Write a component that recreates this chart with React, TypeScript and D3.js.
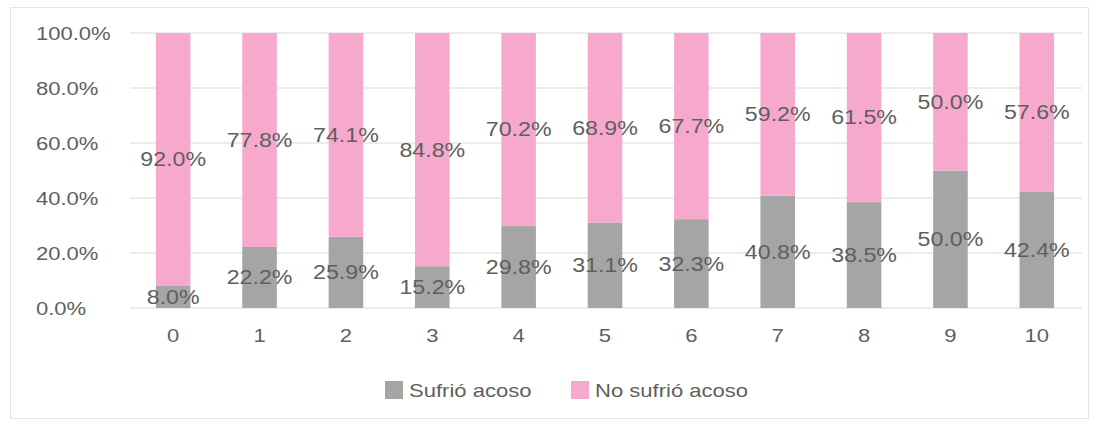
import React from "react";
import * as d3 from "d3";

const categories = ["0", "1", "2", "3", "4", "5", "6", "7", "8", "9", "10"];
const sufrio = [8.0, 22.2, 25.9, 15.2, 29.8, 31.1, 32.3, 40.8, 38.5, 50.0, 42.4];
const noSufrio = [92.0, 77.8, 74.1, 84.8, 70.2, 68.9, 67.7, 59.2, 61.5, 50.0, 57.6];
const yTicks = [0, 20, 40, 60, 80, 100];
const seriesNames = ["Sufrió acoso", "No sufrió acoso"];
const colors = ["#a5a5a5", "#f7a9cd"];

const W = 1098;
const H = 424;
const SX = 1.16;
const FONT = "'Liberation Sans', Arial, sans-serif";
const TXT = "#5f5f5f";

function STxt({ x, y, anchor = "middle", size = 19, children, fill = TXT }: any) {
  return (
    <text
      transform={`translate(${x},${y}) scale(${SX},1)`}
      textAnchor={anchor}
      dominantBaseline="central"
      fontFamily={FONT}
      fontSize={size}
      fill={fill}
    >
      {children}
    </text>
  );
}

export default function App() {
  const x = d3.scaleBand().domain(categories).range([130, 1080]).paddingInner(0.6).paddingOuter(0.3);
  const y = d3.scaleLinear().domain([0, 100]).range([308, 33]);
  const stack = categories.map((c, i) => ({ c, a: sufrio[i], b: noSufrio[i] }));
  return (
    <svg width={W} height={H} style={{ position: "absolute", left: 0, top: 0 }}>
      <rect x={10.5} y={7.5} width={1078} height={411} fill="#fff" stroke="#e6e6e6" />
      {yTicks.map((t) => (
        <g key={t}>
          <line x1={130} x2={1082} y1={y(t)} y2={y(t)} stroke="#d9d9d9" strokeWidth={1.2} />
          <STxt x={36} y={y(t)} anchor="start" size={19}>{`${t.toFixed(1)}%`}</STxt>
        </g>
      ))}
      {stack.map((d) => {
        const bx = x(d.c)!;
        const bw = x.bandwidth();
        const cx = bx + bw / 2;
        return (
          <g key={d.c}>
            <rect x={bx} y={y(d.a)} width={bw} height={y(0) - y(d.a)} fill={colors[0]} />
            <rect x={bx} y={y(d.a + d.b)} width={bw} height={y(d.a) - y(d.a + d.b)} fill={colors[1]} />
            <STxt x={cx} y={(y(0) + y(d.a)) / 2} size={20}>{`${d.a.toFixed(1)}%`}</STxt>
            <STxt x={cx} y={(y(d.a) + y(d.a + d.b)) / 2} size={20}>{`${d.b.toFixed(1)}%`}</STxt>
            <STxt x={cx} y={335} size={19}>{d.c}</STxt>
          </g>
        );
      })}
      <rect x={385} y={381} width={18} height={18} fill={colors[0]} />
      <STxt x={409} y={390} anchor="start" size={19}>{seriesNames[0]}</STxt>
      <rect x={571} y={381} width={18} height={18} fill={colors[1]} />
      <STxt x={595} y={390} anchor="start" size={19}>{seriesNames[1]}</STxt>
    </svg>
  );
}
